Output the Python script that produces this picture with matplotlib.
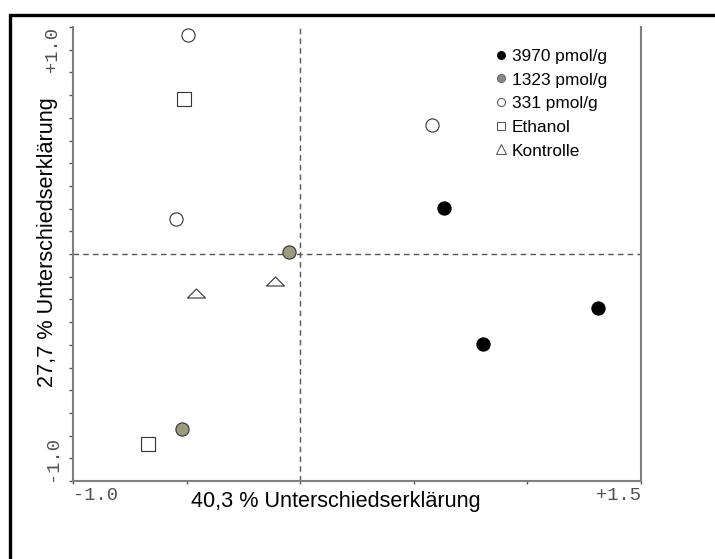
import matplotlib
matplotlib.use("Agg")
import matplotlib.pyplot as plt
from matplotlib.lines import Line2D
from matplotlib.path import Path
import numpy as np

plt.rcParams['font.family'] = ['Liberation Sans', 'DejaVu Sans']

# Scores der Proben (Achse 1 / Achse 2)
x_3970 = [0.634, 0.803, 1.309]
y_3970 = [0.203, -0.395, -0.238]
x_1323 = [-0.049, -0.519]
y_1323 = [0.011, -0.770]
x_331 = [-0.492, -0.548, 0.579]
y_331 = [0.966, 0.154, 0.570]
x_ethanol = [-0.510, -0.671]
y_ethanol = [0.683, -0.837]
x_kontrolle = [-0.459, -0.113]
y_kontrolle = [-0.173, -0.120]

labels = ['3970 pmol/g', '1323 pmol/g', '331 pmol/g', 'Ethanol', 'Kontrolle']
xlabel = '40,3 % Unterschiedserklärung'
ylabel = '27,7 % Unterschiedserklärung'

# flaches Dreieck
tri = Path([(-1, -0.5), (1, -0.5), (0, 0.5), (-1, -0.5)],
           [Path.MOVETO, Path.LINETO, Path.LINETO, Path.CLOSEPOLY])

fig = plt.figure(figsize=(7.15, 5.59), dpi=100)
ax = fig.add_axes([73/715, 1 - 481/559, 568/715, 454/559])

ax.set_xlim(-1.0, 1.5)
ax.set_ylim(-1.0, 1.0)

ax.axhline(0, color='#555555', lw=1, ls=(0, (4, 3)), zorder=1)
ax.axvline(0, color='#555555', lw=1, ls=(0, (4, 3)), zorder=1)

ew = 0.8
ax.plot(x_3970, y_3970, 'o', ms=9.5, mfc='black', mec='black', mew=ew, zorder=3)
ax.plot(x_1323, y_1323, 'o', ms=9.5, mfc='#9b9b7f', mec='#333333', mew=ew, zorder=3)
ax.plot(x_331, y_331, 'o', ms=9.5, mfc='white', mec='#333333', mew=ew, zorder=3)
ax.plot(x_ethanol, y_ethanol, 's', ms=9.5, mfc='white', mec='#333333', mew=ew, zorder=3)
ax.plot(x_kontrolle, y_kontrolle, marker=tri, ls='none', ms=13, mfc='white',
        mec='#333333', mew=ew, zorder=3)

# Achsen
for s in ['left', 'bottom', 'right']:
    ax.spines[s].set_color('#808080')
    ax.spines[s].set_linewidth(1.5)
ax.spines['top'].set_visible(False)

ax.set_xticks(np.arange(-1.0, 1.51, 0.5))
ax.set_yticks(np.arange(-1.0, 1.01, 0.1))
ax.tick_params(axis='x', length=2, width=1, color='#555555', labelbottom=False)
ax.tick_params(axis='y', length=3, width=1, color='#555555', labelleft=False)

mono = dict(family='Liberation Mono', fontsize=13.5, color='#505050')
ax.text(0, -0.033, '-1.0', transform=ax.transAxes, ha='left', va='center', **mono)
ax.text(1, -0.033, '+1.5', transform=ax.transAxes, ha='right', va='center', **mono)
ax.text(-0.036, 1.0, '+1.0', transform=ax.transAxes, ha='center', va='top',
        rotation=90, **mono)
ax.text(-0.036, 0.0, '-1.0', transform=ax.transAxes, ha='center', va='bottom',
        rotation=90, **mono)

ax.text(0.463, -0.045, xlabel, transform=ax.transAxes, ha='center', va='center',
        fontsize=15.6, color='black')
ax.text(-0.045, 0.526, ylabel, transform=ax.transAxes, ha='center', va='center',
        rotation=90, fontsize=15.6, color='black')

# Legende
handles = [
    Line2D([], [], ls='none', marker='o', ms=5.8, mfc='black', mec='black', mew=0.6),
    Line2D([], [], ls='none', marker='o', ms=5.8, mfc='#888888', mec='#555555', mew=0.6),
    Line2D([], [], ls='none', marker='o', ms=5.8, mfc='white', mec='#333333', mew=0.6),
    Line2D([], [], ls='none', marker='s', ms=5.8, mfc='white', mec='#333333', mew=0.6),
    Line2D([], [], ls='none', marker='^', ms=7, mfc='white', mec='#333333', mew=0.6),
]
leg = ax.legend(handles, labels, loc='upper left', bbox_to_anchor=(0.745, 0.952),
                frameon=False, fontsize=12.4, handlelength=0.6, handletextpad=0.3,
                labelspacing=0.5, borderaxespad=0, borderpad=0)

# Rahmen oben und links
fig.add_artist(Line2D([9.5/715, 9.5/715, 1.01], [-0.01, 1 - 14.5/559, 1 - 14.5/559],
                      transform=fig.transFigure, color='black', lw=2.4,
                      solid_joinstyle='miter'))

fig.savefig('out.png', dpi=100)
